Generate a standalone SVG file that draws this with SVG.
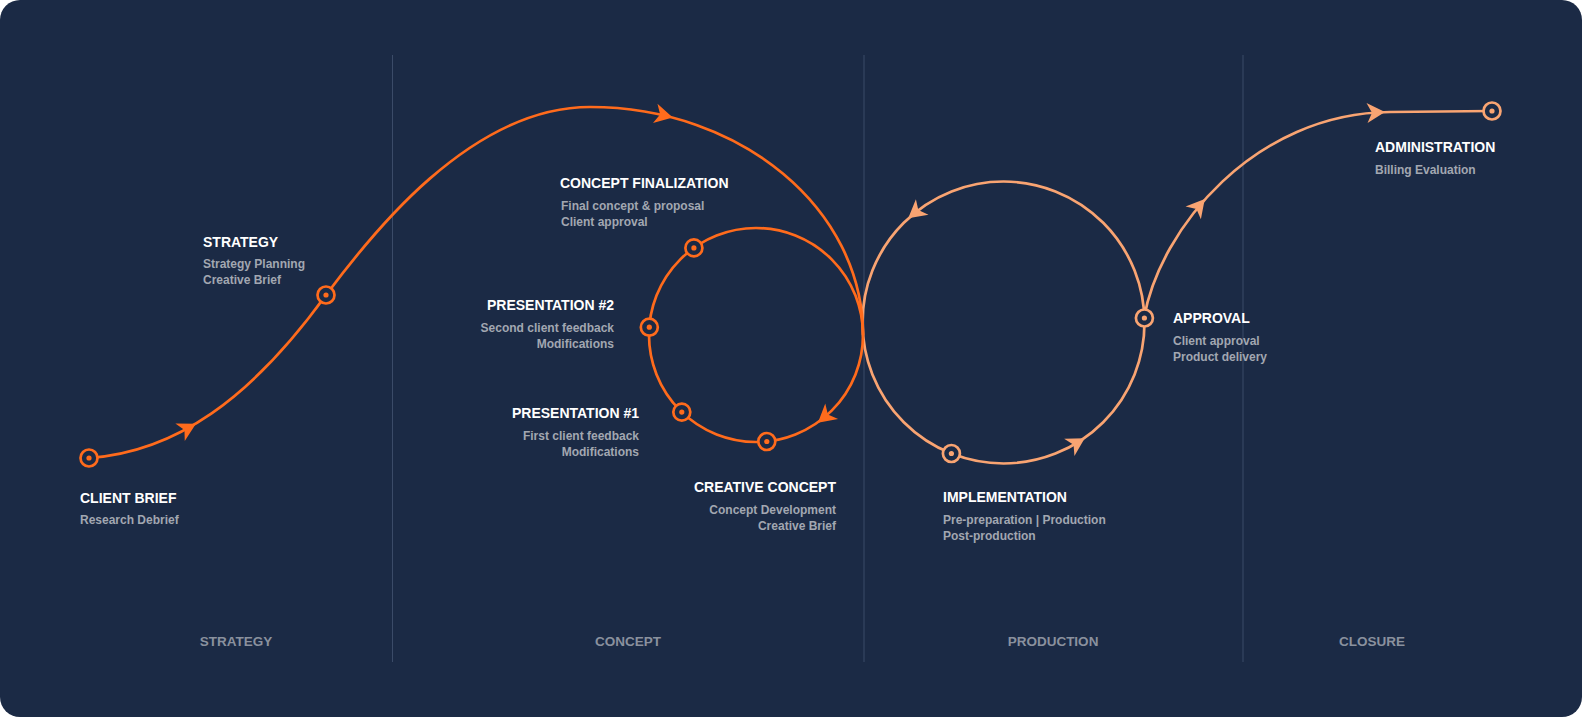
<svg xmlns="http://www.w3.org/2000/svg" xmlns:xlink="http://www.w3.org/1999/xlink" width="1582" height="717" viewBox="0 0 1582 717">
<style>
.bg{fill:#1b2a45}
.div{stroke:#3b4b68;stroke-width:1}
.t{font-family:"Liberation Sans",Arial,sans-serif;font-weight:700;font-size:14px;fill:#ffffff}
.s{font-family:"Liberation Sans",Arial,sans-serif;font-weight:700;font-size:12px;fill:#a2a7b1}
.ph{font-family:"Liberation Sans",Arial,sans-serif;font-weight:700;font-size:13.5px;fill:#8a919e;text-anchor:middle}
.r{text-anchor:end}
.lo{fill:none;stroke:#ff6b1c;stroke-width:2.7}
.lp{fill:none;stroke:#f9a472;stroke-width:2.7}
.no{fill:#1b2a45;stroke:#ff6b1c;stroke-width:2.7}
.np{fill:#1b2a45;stroke:#f9a472;stroke-width:2.7}
.do{fill:#ff6b1c}
.dp{fill:#f9a472}
</style>
<defs>
<path id="arr" d="M9,0 L-9,-10 L-4,0 L-9,10 Z"/>
</defs>
<rect x="0" y="0" width="1582" height="717" fill="#ffffff"/>
<rect class="bg" x="0" y="0" width="1582" height="717" rx="20" ry="20"/>
<g id="dividers">
<line class="div" x1="392.5" y1="55" x2="392.5" y2="662"/>
<line class="div" x1="864" y1="55" x2="864" y2="662"/>
<line class="div" x1="1243" y1="55" x2="1243" y2="662"/>
</g>
<g id="phases">
<text class="ph" x="236" y="646">STRATEGY</text>
<text class="ph" x="628" y="646">CONCEPT</text>
<text class="ph" x="1053" y="646">PRODUCTION</text>
<text class="ph" x="1372" y="646">CLOSURE</text>
</g>
<g id="connectors">
<circle class="lp" cx="1003.5" cy="322.5" r="141"/>
<path class="lp" d="M1144,318 C1160,228 1255,113 1390,112 L1492,111"/>
<path class="lo" d="M89,458 C175,452 250,400 326,295 C370,236 470,107 590,107 C741,107 863,209 863,335"/>
<circle class="lo" cx="756" cy="335" r="107"/>
<use href="#arr" class="do" transform="translate(188,428) rotate(-28)"/>
<use href="#arr" class="do" transform="translate(664,115.4) rotate(13)"/>
<use href="#arr" class="do" transform="translate(824.8,417) rotate(140)"/>
<use href="#arr" class="dp" transform="translate(915.2,212.6) rotate(141)"/>
<use href="#arr" class="dp" transform="translate(1077,442.8) rotate(-31)"/>
<use href="#arr" class="dp" transform="translate(1199,206) rotate(-50)"/>
<use href="#arr" class="dp" transform="translate(1376,112.5) rotate(-3)"/>
</g>
<g id="client-brief">
<circle class="no" cx="89" cy="458" r="8.5"/><circle class="do" cx="89" cy="458" r="2.6"/>
<text class="t" x="80" y="503">CLIENT BRIEF</text>
<text class="s" x="80" y="524">Research Debrief</text>
</g>
<g id="strategy">
<circle class="no" cx="326" cy="295" r="8.5"/><circle class="do" cx="326" cy="295" r="2.6"/>
<text class="t" x="203" y="246.5">STRATEGY</text>
<text class="s" x="203" y="268">Strategy Planning</text>
<text class="s" x="203" y="284">Creative Brief</text>
</g>
<g id="concept-finalization">
<circle class="no" cx="693.9" cy="247.9" r="8.5"/><circle class="do" cx="693.9" cy="247.9" r="2.6"/>
<text class="t" x="560" y="188">CONCEPT FINALIZATION</text>
<text class="s" x="561" y="210">Final concept &amp; proposal</text>
<text class="s" x="561" y="226">Client approval</text>
</g>
<g id="presentation-2">
<circle class="no" cx="649.3" cy="327.2" r="8.5"/><circle class="do" cx="649.3" cy="327.2" r="2.6"/>
<text class="t r" x="614" y="310">PRESENTATION #2</text>
<text class="s r" x="614" y="332">Second client feedback</text>
<text class="s r" x="614" y="348">Modifications</text>
</g>
<g id="presentation-1">
<circle class="no" cx="681.8" cy="412.1" r="8.5"/><circle class="do" cx="681.8" cy="412.1" r="2.6"/>
<text class="t r" x="639" y="418">PRESENTATION #1</text>
<text class="s r" x="639" y="440">First client feedback</text>
<text class="s r" x="639" y="456">Modifications</text>
</g>
<g id="creative-concept">
<circle class="no" cx="766.8" cy="441.5" r="8.5"/><circle class="do" cx="766.8" cy="441.5" r="2.6"/>
<text class="t r" x="836" y="492">CREATIVE CONCEPT</text>
<text class="s r" x="836" y="514">Concept Development</text>
<text class="s r" x="836" y="530">Creative Brief</text>
</g>
<g id="implementation">
<circle class="np" cx="951.4" cy="453.5" r="8.5"/><circle class="dp" cx="951.4" cy="453.5" r="2.6"/>
<text class="t" x="943" y="502">IMPLEMENTATION</text>
<text class="s" x="943" y="524">Pre-preparation | Production</text>
<text class="s" x="943" y="540">Post-production</text>
</g>
<g id="approval">
<circle class="np" cx="1144.4" cy="318" r="8.5"/><circle class="dp" cx="1144.4" cy="318" r="2.6"/>
<text class="t" x="1173" y="323">APPROVAL</text>
<text class="s" x="1173" y="345">Client approval</text>
<text class="s" x="1173" y="361">Product delivery</text>
</g>
<g id="administration">
<circle class="np" cx="1492" cy="111" r="8.5"/><circle class="dp" cx="1492" cy="111" r="2.6"/>
<text class="t" x="1375" y="152">ADMINISTRATION</text>
<text class="s" x="1375" y="174">Billing Evaluation</text>
</g>
</svg>
